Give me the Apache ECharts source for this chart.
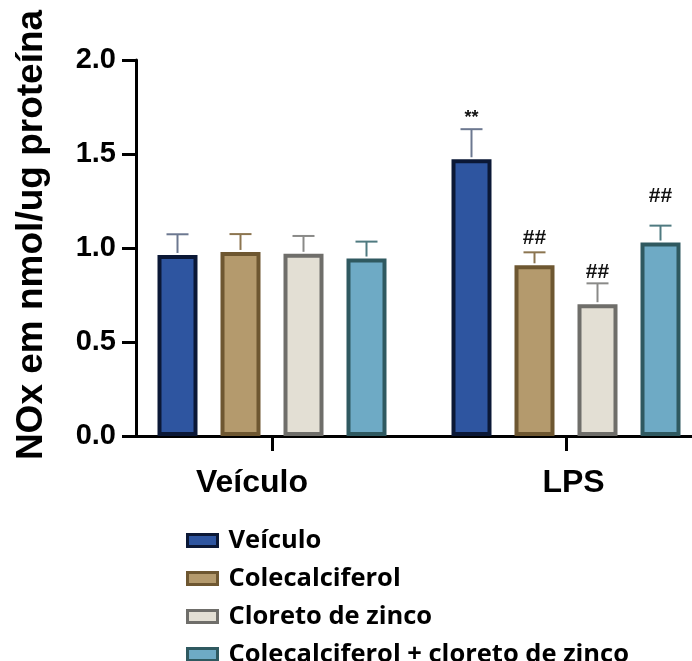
<!DOCTYPE html>
<html>
<head>
<meta charset="utf-8">
<script src="https://cdn.jsdelivr.net/npm/echarts@6/dist/echarts.min.js"></script>
<style>
html,body{margin:0;padding:0;background:#fff;}
#chart{width:692px;height:661px;}
</style>
</head>
<body>
<div id="chart"></div>
<script>
// ---- data ----
const categories = ['Veículo', 'LPS'];
const seriesNames = ['Veículo', 'Colecalciferol', 'Cloreto de zinco', 'Colecalciferol + cloreto de zinco'];
const meanVeiculo = [0.963, 1.472];
const meanColecalciferol = [0.979, 0.908];
const meanCloreto = [0.969, 0.701];
const meanCombo = [0.944, 1.029];
const errVeiculo = [0.11, 0.16];
const errColecalciferol = [0.095, 0.069];
const errCloreto = [0.095, 0.111];
const errCombo = [0.09, 0.09];
const annVeiculo = ['', '**'];
const annColecalciferol = ['', '##'];
const annCloreto = ['', '##'];
const annCombo = ['', '##'];
const yTicks = [0, 0.5, 1.0, 1.5, 2.0];

// ---- styles ----
const fills = ['#2e55a0', '#b49a6d', '#e3dfd4', '#6eaac5'];
const borders = ['#0b1836', '#6e5731', '#6f6e6a', '#2f5960'];
const errColors = ['#6c7890', '#8c7550', '#8a8a88', '#4f7a80'];
const annLift = [11, 14, 11, 29];
const barW = 40, barStep = 63;

const means = [meanVeiculo, meanColecalciferol, meanCloreto, meanCombo];
const errs = [errVeiculo, errColecalciferol, errCloreto, errCombo];
const anns = [annVeiculo, annColecalciferol, annCloreto, annCombo];

const series = [];
seriesNames.forEach((name, i) => {
  series.push({
    type: 'bar',
    name: name,
    data: means[i].map((v, k) => [k + 1, v]),
    barWidth: barW,
    barGap: ((barStep - barW) / barW * 100) + '%',
    itemStyle: { color: fills[i], borderColor: borders[i], borderWidth: 4 },
    z: 2
  });
});
seriesNames.forEach((name, i) => {
  series.push({
    type: 'custom',
    name: name + ' err',
    data: means[i].map((v, k) => [k + 1, v, v + errs[i][k], anns[i][k]]),
    z: 3,
    silent: true,
    renderItem: function (params, api) {
      const x = api.value(0);
      const p0 = api.coord([x, api.value(1)]);
      const p1 = api.coord([x, api.value(2)]);
      const cx = p0[0] + (i - 1.5) * barStep;
      const c = errColors[i];
      const children = [
        { type: 'line', shape: { x1: cx, y1: p0[1] - 2, x2: cx, y2: p1[1] }, style: { stroke: c, lineWidth: 2 } },
        { type: 'line', shape: { x1: cx - 11, y1: p1[1], x2: cx + 11, y2: p1[1] }, style: { stroke: c, lineWidth: 2 } }
      ];
      const txt = api.value(3);
      if (txt) {
        children.push({
          type: 'text',
          style: {
            text: txt, x: cx, y: p1[1] - annLift[i],
            align: 'center', verticalAlign: 'middle',
            fill: '#111',
            font: txt === '**' ? 'bold 18px "Liberation Sans"' : 'bold 21px "Liberation Sans"'
          }
        });
      }
      return { type: 'group', children: children };
    }
  });
});

const catFont = { color: '#000', fontFamily: 'Liberation Sans', fontWeight: 'bold', fontSize: 32 };

const chart = echarts.init(document.getElementById('chart'), null, { renderer: 'canvas' });
chart.setOption({
  animation: false,
  backgroundColor: '#fff',
  grid: { left: 136, right: 0, top: 60, bottom: 225, containLabel: false },
  xAxis: {
    type: 'value',
    min: 1 - 136 / 294,
    max: 1 + (692 - 272) / 294,
    splitLine: { show: false },
    axisLine: { show: true, lineStyle: { color: '#000', width: 3 } },
    axisTick: { show: true, customValues: [1, 2], length: 15, lineStyle: { color: '#000', width: 3 } },
    axisLabel: {
      customValues: [1, 2],
      formatter: v => {
        const k = Math.round(v) - 1;
        return '{c' + k + '|' + (categories[k] || '') + '}';
      },
      margin: 31,
      rich: {
        c0: Object.assign({ padding: [0, 40, 0, 0] }, catFont),
        c1: Object.assign({ padding: [0, 0, 0, 15] }, catFont)
      }
    }
  },
  yAxis: {
    type: 'value',
    min: 0, max: 2, interval: 0.5,
    splitLine: { show: false },
    axisLine: { show: true, lineStyle: { color: '#000', width: 3 } },
    axisTick: { show: true, length: 14, lineStyle: { color: '#000', width: 3 } },
    axisLabel: {
      formatter: v => (yTicks.indexOf(v) >= 0 ? v.toFixed(1) : ''),
      color: '#000', fontFamily: 'Liberation Sans', fontWeight: 'bold', fontSize: 29, margin: 20
    },
    name: 'NOx em nmol/ug proteína',
    nameLocation: 'middle',
    nameGap: 86,
    nameTextStyle: { color: '#000', fontFamily: 'Liberation Sans', fontWeight: 'bold', fontSize: 37, padding: [0, 0, 0, 26] }
  },
  legend: {
    data: seriesNames,
    orient: 'vertical',
    left: 186, top: 526,
    padding: 0,
    height: 200,
    icon: 'rect',
    itemWidth: 30, itemHeight: 12,
    itemGap: 9,
    itemStyle: { borderWidth: 3 },
    textStyle: { color: '#000', fontFamily: 'Open Sans', fontWeight: 'bold', fontSize: 25.5, lineHeight: 29, padding: [0, 0, 0, 6] },
    selectedMode: false
  },
  series: series
});
</script>
</body>
</html>
